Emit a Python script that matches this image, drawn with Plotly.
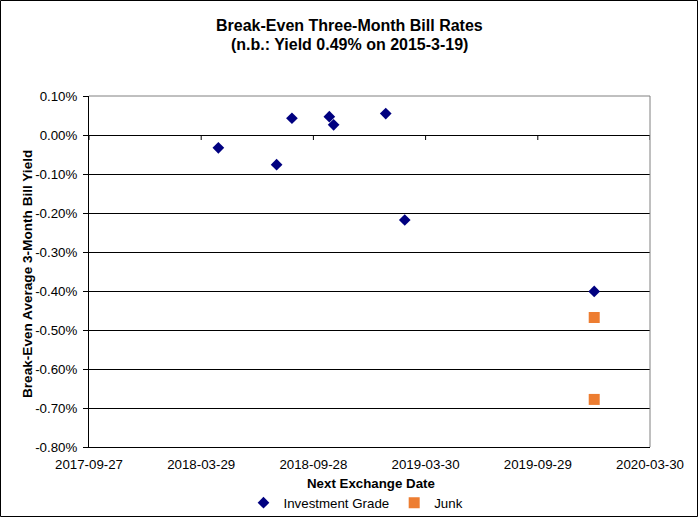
import plotly.graph_objects as go

# ---- data ----
ig_dates = ["2018-04-26", "2018-07-30", "2018-08-24", "2018-10-24", "2018-10-31",
            "2019-01-24", "2019-02-24", "2019-12-30"]
ig_yield = [-0.033, -0.076, 0.043, 0.047, 0.026, 0.055, -0.218, -0.401]   # percent
junk_dates = ["2019-12-30", "2019-12-30"]
junk_yield = [-0.468, -0.678]                                             # percent

x_tick_vals = ["2017-09-27", "2018-03-29", "2018-09-28", "2019-03-30", "2019-09-29", "2020-03-30"]
x_tick_text = ["2017-09-27", "2018-03-29", "2018-09-28", "2019-03-30", "2019-09-29", "2020-03-30"]
y_tick_vals = [0.1, 0.0, -0.1, -0.2, -0.3, -0.4, -0.5, -0.6, -0.7, -0.8]
y_tick_text = ["0.10%", "0.00%", "-0.10%", "-0.20%", "-0.30%", "-0.40%",
               "-0.50%", "-0.60%", "-0.70%", "-0.80%"]

title_line1 = "Break-Even Three-Month Bill Rates"
title_line2 = "(n.b.: Yield 0.49% on 2015-3-19)"
x_title = "Next Exchange Date"
y_title = "Break-Even Average 3-Month Bill Yield"

# ---- layout geometry (pixels) ----
W, H = 698, 517
L, R, T, B = 89, 48, 96, 70
PW, PH = W - L - R, H - T - B
FONT = "Liberation Sans, Arial, sans-serif"


def px_x(x):
    return (x - L) / PW


def px_y(y):
    return (H - B - y) / PH


fig = go.Figure()
fig.add_trace(go.Scatter(
    x=ig_dates, y=ig_yield, mode="markers", name="Investment Grade",
    marker=dict(symbol="diamond", size=9, color="#000080",
                line=dict(width=0)),
))
fig.add_trace(go.Scatter(
    x=junk_dates, y=junk_yield, mode="markers", name="Junk",
    marker=dict(symbol="square", size=11, color="#ED7D31",
                line=dict(width=0)),
))

shapes = []
# x-axis tick marks drawn on the zero line (Excel axis crosses at 0)
for d in x_tick_vals:
    shapes.append(dict(type="line", xref="x", yref="y", x0=d, x1=d,
                       ysizemode="pixel", yanchor=0, y0=0, y1=-5,
                       line=dict(color="black", width=1), layer="above"))
# grey top / right border of plot area
shapes.append(dict(type="line", xref="paper", yref="paper", x0=0, x1=1, y0=1, y1=1,
                   line=dict(color="#808080", width=1), layer="above"))
shapes.append(dict(type="line", xref="paper", yref="paper", x0=1, x1=1, y0=0, y1=1,
                   line=dict(color="#808080", width=1), layer="above"))
# outer chart border
shapes.append(dict(type="rect", xref="paper", yref="paper",
                   x0=px_x(0.5), x1=px_x(W - 0.5), y0=px_y(H - 0.5), y1=px_y(0.5),
                   line=dict(color="black", width=1), layer="above"))

annotations = [
    dict(text="<b>" + title_line1 + "</b>", xref="paper", yref="paper",
         x=px_x(W / 2), y=px_y(26), xanchor="center", yanchor="middle",
         showarrow=False, font=dict(family=FONT, size=16, color="black")),
    dict(text="<b>" + title_line2 + "</b>", xref="paper", yref="paper",
         x=px_x(W / 2), y=px_y(44), xanchor="center", yanchor="middle",
         showarrow=False, font=dict(family=FONT, size=16, color="black")),
    dict(text="<b>" + x_title + "</b>", xref="paper", yref="paper",
         x=px_x(371), y=px_y(483), xanchor="center", yanchor="middle",
         showarrow=False, font=dict(family=FONT, size=13.3, color="black")),
    dict(text="<b>" + y_title + "</b>", xref="paper", yref="paper",
         x=px_x(27), y=px_y(274), xanchor="center", yanchor="middle",
         textangle=-90, showarrow=False,
         font=dict(family=FONT, size=13.6, color="black")),
]

fig.update_layout(
    width=W, height=H,
    margin=dict(l=L, r=R, t=T, b=B, autoexpand=False),
    paper_bgcolor="white", plot_bgcolor="white",
    font=dict(family=FONT, size=13.3, color="black"),
    showlegend=True,
    legend=dict(orientation="h", x=px_x(356), y=px_y(503),
                xanchor="center", yanchor="middle",
                font=dict(family=FONT, size=13.3, color="black"),
                itemwidth=30, bgcolor="rgba(0,0,0,0)", tracegroupgap=0),
    xaxis=dict(type="date", range=[x_tick_vals[0], x_tick_vals[-1]],
               tickmode="array", tickvals=x_tick_vals, ticktext=x_tick_text,
               showgrid=False, zeroline=False, showline=True, linecolor="black",
               linewidth=1, ticks="", ticklabelstandoff=5,
               tickfont=dict(family=FONT, size=13.3)),
    yaxis=dict(range=[y_tick_vals[-1], y_tick_vals[0]],
               tickmode="array", tickvals=y_tick_vals, ticktext=y_tick_text,
               showgrid=True, gridcolor="black", gridwidth=1,
               zeroline=False, showline=True, linecolor="black", linewidth=1,
               ticks="outside", ticklen=5, tickcolor="black",
               ticklabelstandoff=3, tickfont=dict(family=FONT, size=13.3)),
    shapes=shapes, annotations=annotations,
)

fig.write_html("out.html", config={"displayModeBar": False},
               post_script="document.body.style.margin='0';document.body.style.padding='0';")
